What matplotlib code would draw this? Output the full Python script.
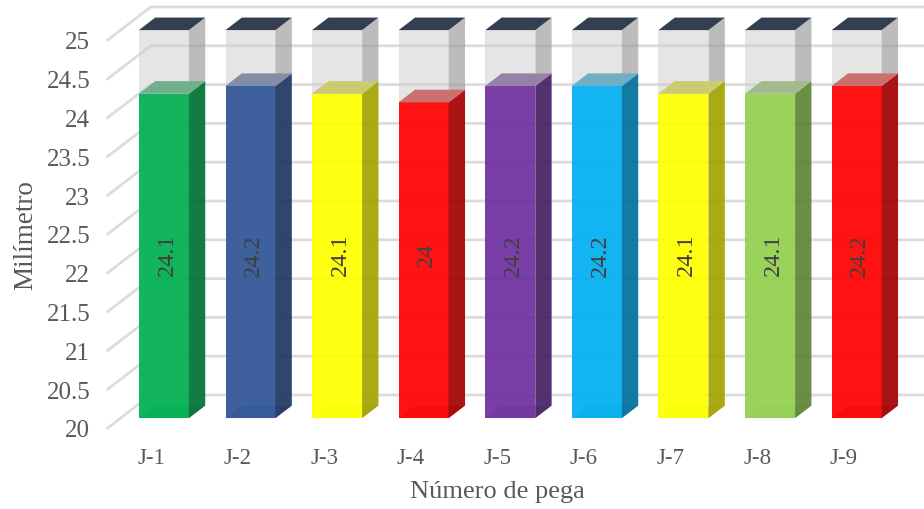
import matplotlib
matplotlib.use("Agg")
import matplotlib.pyplot as plt
from matplotlib.colors import to_rgb

plt.rcParams['font.family'] = ['Liberation Serif', 'DejaVu Serif']

# Datos
juntas = ['J-1', 'J-2', 'J-3', 'J-4', 'J-5', 'J-6', 'J-7', 'J-8', 'J-9']
alturas = [24.18, 24.28, 24.18, 24.07, 24.28, 24.28, 24.18, 24.18, 24.28]
etiquetas = ['24.1', '24.2', '24.1', '24', '24.2', '24.2', '24.1', '24.1', '24.2']
colores = ['#00b050', '#2f5597', '#ffff00', '#ff0000', '#7030a0',
           '#00b0f0', '#ffff00', '#92d050', '#ff0000']
ticks_y = [20, 20.5, 21, 21.5, 22, 22.5, 23, 23.5, 24, 24.5, 25]
ticks_txt = ['20', '20.5', '21', '21.5', '22', '22.5', '23', '23.5', '24', '24.5', '25']

W, H = 924, 510
fig = plt.figure(figsize=(W / 100, H / 100), dpi=100)
ax = fig.add_axes([107.7 / W, (H - 429) / H, 779.4 / W, 388 / H])
ax.set_xlim(-0.5, 8.5)
ax.set_ylim(20, 25)

# profundidad de la pared en unidades de datos
fondo_x = 43 / 86.6
fondo_y = 33 / 77.6
t0, t1 = 0.30, 0.68
ancho = 50 / 86.6

gris = '#595959'
for s in ax.spines.values():
    s.set_visible(False)
ax.set_xticks(range(len(juntas)), juntas)
ax.set_yticks(ticks_y, ticks_txt)
ax.tick_params(axis='both', length=0, labelcolor=gris)
ax.tick_params(axis='y', labelsize=18, pad=12.5)
ax.tick_params(axis='x', labelsize=16.5, pad=14)
ax.set_xlabel('Número de pega', fontsize=19, color=gris, labelpad=8)
ax.set_ylabel('Milímetro', fontsize=19.5, color=gris, labelpad=6)

# lineas de la rejilla (pared lateral y pared del fondo)
for v in ticks_y:
    ax.plot([-0.5, -0.5 + fondo_x, 9.2], [v, v + fondo_y, v + fondo_y],
            color='#dcdcdc', lw=2, zorder=1, clip_on=False,
            solid_joinstyle='miter')


def oscuro(c, f):
    return tuple(k * f for k in to_rgb(c))


for i, (alto, color, txt) in enumerate(zip(alturas, colores, etiquetas)):
    dx0 = t0 * fondo_x
    dy0 = t0 * fondo_y
    dx = (t1 - t0) * fondo_x
    dy = (t1 - t0) * fondo_y
    x0 = i + dx0 - ancho / 2
    x1 = x0 + ancho
    y0 = 20 + dy0
    ya = alto + dy0
    yt = 25 + dy0

    # cara inferior
    ax.fill([x0, x1, x1 + dx, x0 + dx], [y0, y0, y0 + dy, y0 + dy],
            color=oscuro(color, 0.7), alpha=0.4, lw=0, zorder=2, clip_on=False)
    # parte vacia hasta 25
    ax.bar(i + dx0, 25 - alto, ancho, bottom=ya, color='#d0d0d0', alpha=0.55,
           lw=0, zorder=3, clip_on=False)
    ax.fill([x1, x1 + dx, x1 + dx, x1], [ya, ya + dy, yt + dy, yt],
            color='#999999', alpha=0.65, lw=0, zorder=3, clip_on=False)
    ax.fill([x0, x1, x1 + dx, x0 + dx], [yt, yt, yt + dy, yt + dy],
            color='#333f50', lw=0, zorder=4, clip_on=False)
    # columna con el valor
    ax.bar(i + dx0, alto - 20, ancho, bottom=y0, color=color, alpha=0.93,
           lw=0, zorder=5, clip_on=False)
    ax.fill([x1, x1 + dx, x1 + dx, x1], [y0, y0 + dy, ya + dy, ya],
            color=oscuro(color, 0.64), alpha=0.92, lw=0, zorder=5, clip_on=False)
    # tapa de la columna, apagada sobre gris
    ax.fill([x0, x1, x1 + dx, x0 + dx], [ya, ya, ya + dy, ya + dy],
            color='#afafaf', lw=0, zorder=5, clip_on=False)
    ax.fill([x0, x1, x1 + dx, x0 + dx], [ya, ya, ya + dy, ya + dy],
            color=color, alpha=0.36, lw=0, zorder=5, clip_on=False)
    ax.text(i + dx0 + 0.035, 22.24, txt, rotation=90, ha='center', va='center',
            fontsize=17.5, color='#404040', zorder=6)

fig.savefig('out.png', dpi=100)
